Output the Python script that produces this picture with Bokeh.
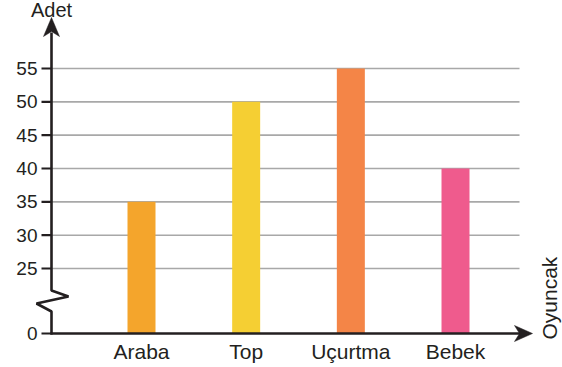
from bokeh.plotting import figure
from bokeh.models import Range1d, ColumnDataSource
from bokeh.core.properties import value
from bokeh.embed import file_html
from bokeh.resources import INLINE

# ---- data ----
categories = ["Araba", "Top", "Uçurtma", "Bebek"]
counts = [35, 50, 55, 40]
bar_colors = ["#F4A52C", "#F5CF33", "#F48547", "#EF5B8D"]
y_ticks = [25, 30, 35, 40, 45, 50, 55]
y_tick_labels = ["25", "30", "35", "40", "45", "50", "55"]
zero_label = "0"
x_title = "Oyuncak"
y_title = "Adet"

# ---- layout (pixel calibration of the canvas) ----
W, H = 562, 367
X_UNIT = 104.67      # px per category step
X_REF_PX = 141.0     # px of first category centre
Y_UNIT = 6.667       # px per value unit
Y_REF_PX = 68.0      # px of value 55
Y_REF_VAL = 55.0

def dx(px):
    return 1 + (px - X_REF_PX) / X_UNIT

def dy(px):
    return Y_REF_VAL - (px - Y_REF_PX) / Y_UNIT

BASE = dy(333)       # broken axis: "0" sits here
AXIS_X_PX = 51
INK = "#231F20"
FONT = value("Liberation Sans")

p = figure(width=W, height=H, output_backend="svg", toolbar_location=None,
           x_range=Range1d(dx(0), dx(W)), y_range=Range1d(dy(H), dy(0)),
           x_axis_location=None, y_axis_location=None,
           min_border=0, min_border_left=0, min_border_right=0,
           min_border_top=0, min_border_bottom=0)
p.grid.visible = False
p.outline_line_color = None
p.background_fill_color = "white"
p.border_fill_color = "white"

xs = [i + 1 for i in range(len(categories))]

# grid lines
p.segment(x0=[dx(AXIS_X_PX)] * len(y_ticks), x1=[dx(519)] * len(y_ticks),
          y0=y_ticks, y1=y_ticks, line_color="#A8A8A8", line_width=1.6)

# bars
src = ColumnDataSource(dict(x=xs, top=counts, color=bar_colors))
p.vbar(x="x", top="top", bottom=BASE, width=28 / X_UNIT, source=src,
       fill_color="color", line_color=None)

# y axis with break
ax = dx(AXIS_X_PX)
p.line(x=[ax, ax, dx(68), dx(36), ax, ax],
       y=[dy(32), dy(290), dy(296), dy(303), dy(311), dy(334)],
       line_color=INK, line_width=2.6)
# x axis
p.line(x=[dx(50), dx(522)], y=[BASE, BASE], line_color=INK, line_width=2.6)

# arrow heads
p.patch(x=[ax, dx(59), ax, dx(43)], y=[dy(17), dy(36), dy(31), dy(36)],
        fill_color=INK, line_color=INK, line_width=0.5)
p.patch(x=[dx(532), dx(514), dx(519), dx(514)], y=[BASE, dy(325), BASE, dy(341)],
        fill_color=INK, line_color=INK, line_width=0.5)

# ticks
tick_vals = [BASE] + y_ticks
p.segment(x0=[dx(41)] * len(tick_vals), x1=[ax] * len(tick_vals),
          y0=tick_vals, y1=tick_vals, line_color=INK, line_width=2.2)

# tick labels
p.text(x=[dx(37)] * len(tick_vals), y=tick_vals, text=[zero_label] + y_tick_labels,
       text_align="right", text_baseline="middle", text_font=FONT,
       text_font_size="19px", text_color=INK)

# category labels
p.text(x=xs, y=[dy(351)] * len(xs), text=categories, text_align="center",
       text_baseline="middle", text_font=FONT, text_font_size="21px",
       text_color=INK)

# axis titles
p.text(x=[ax], y=[dy(9)], text=[y_title], text_align="center",
       text_baseline="middle", text_font=FONT, text_font_size="20px",
       text_color=INK)
p.text(x=[dx(549)], y=[dy(339)], text=[x_title], angle=1.5708,
       text_align="left", text_baseline="middle", text_font=FONT,
       text_font_size="21px", text_color=INK)

open("out.html", "w").write(file_html(p, INLINE))
